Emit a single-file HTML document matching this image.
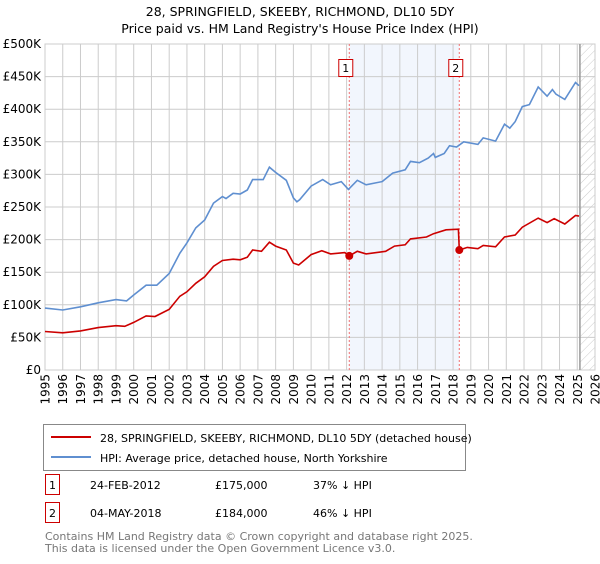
<!DOCTYPE html>
<html><head><meta charset="utf-8"><style>
body{margin:0;background:#fff;font-family:"DejaVu Sans","Liberation Sans",sans-serif;}
svg text{font-family:"DejaVu Sans","Liberation Sans",sans-serif;}
</style></head><body>
<svg id="c" width="600" height="560" viewBox="0 0 600 560">
<defs><pattern id="hatch" width="6" height="6" patternUnits="userSpaceOnUse" patternTransform="rotate(45)"><line x1="0" y1="0" x2="0" y2="6" stroke="#ccc" stroke-width="1"/></pattern></defs>
<text x="300" y="16" text-anchor="middle" font-size="12.5">28, SPRINGFIELD, SKEEBY, RICHMOND, DL10 5DY</text>
<text x="300" y="33" text-anchor="middle" font-size="12.5">Price paid vs. HM Land Registry's House Price Index (HPI)</text>
<g id="plot"></g>
<g>
<rect x="43.5" y="424.5" width="422" height="46" fill="#fff" stroke="#888"/>
<line x1="51" y1="437" x2="91" y2="437" stroke="#cc0000" stroke-width="2"/>
<text x="100" y="442" font-size="11">28, SPRINGFIELD, SKEEBY, RICHMOND, DL10 5DY (detached house)</text>
<line x1="51" y1="457" x2="91" y2="457" stroke="#5f8fd0" stroke-width="2"/>
<text x="100" y="462" font-size="11">HPI: Average price, detached house, North Yorkshire</text>
</g>
<g font-size="11">
<rect x="45.5" y="474.5" width="14" height="20" fill="#fff" stroke="#cc0000"/>
<text x="52.5" y="489" text-anchor="middle">1</text>
<text x="90" y="489">24-FEB-2012</text><text x="215" y="489">£175,000</text><text x="313" y="489">37% ↓ HPI</text>
<rect x="45.5" y="502.5" width="14" height="20" fill="#fff" stroke="#cc0000"/>
<text x="52.5" y="517" text-anchor="middle">2</text>
<text x="90" y="517">04-MAY-2018</text><text x="215" y="517">£184,000</text><text x="313" y="517">46% ↓ HPI</text>
</g>
<text x="45" y="540" font-size="11" fill="#777">Contains HM Land Registry data © Crown copyright and database right 2025.</text>
<text x="45" y="552" font-size="11" fill="#777">This data is licensed under the Open Government Licence v3.0.</text>
</svg>
<script>
const hpiYears=[1995,1996,1997,1998,1999,1999.6,2000,2000.7,2001.3,2002,2002.6,2003,2003.5,2004,2004.5,2005,2005.2,2005.6,2006,2006.4,2006.7,2007.3,2007.65,2008,2008.6,2009,2009.2,2009.35,2010,2010.65,2011.1,2011.7,2012.1,2012.6,2013.1,2014,2014.6,2015.3,2015.6,2016.1,2016.6,2016.9,2017,2017.5,2017.8,2018.2,2018.6,2019.4,2019.7,2020.4,2020.9,2021.2,2021.5,2021.9,2022.3,2022.8,2023.3,2023.6,2023.8,2024.3,2024.9,2025.1];
const hpiValues=[95,92,97,103,108,106,115,130,130,148,179,195,218,230,256,266,263,271,270,276,292,292,311,303,291,264,258,261,282,292,284,289,277,291,284,289,302,307,320,318,325,332,326,332,344,342,350,346,356,351,377,371,381,404,407,434,420,430,423,415,441,436];
const propYears=[1995,1996,1997,1998,1999,1999.5,2000,2000.7,2001.2,2002,2002.6,2003,2003.5,2004,2004.5,2005,2005.6,2006,2006.4,2006.7,2007.2,2007.65,2008,2008.6,2009,2009.3,2010,2010.6,2011.1,2011.9,2012.15,2012.6,2013.1,2014.2,2014.7,2015.3,2015.6,2016.5,2016.9,2017.6,2018.3,2018.35,2018.8,2019.4,2019.7,2020.4,2020.9,2021.5,2021.9,2022.8,2023.3,2023.7,2024.3,2024.9,2025.1];
const propValues=[59,57,60,65,68,67,73,83,82,93,113,120,133,143,159,168,170,169,173,184,182,196,190,184,164,161,177,183,178,180,175,182,178,182,190,192,201,204,209,215,216,184,188,186,191,189,204,207,219,233,226,232,224,237,236];
const saleYears=[2012.15,2018.35];
const saleValues=[175,184];
const saleLabels=["1","2"];
const yTicks=[0,50,100,150,200,250,300,350,400,450,500];
const yTickLabels=["£0","£50K","£100K","£150K","£200K","£250K","£300K","£350K","£400K","£450K","£500K"];
const xTicks=[1995,1996,1997,1998,1999,2000,2001,2002,2003,2004,2005,2006,2007,2008,2009,2010,2011,2012,2013,2014,2015,2016,2017,2018,2019,2020,2021,2022,2023,2024,2025,2026];
const dataEnd=2025.15;
const X0=45,X1=595,Y0=370,Y1=44;
const x=v=>X0+(v-1995)/(2026-1995)*(X1-X0);
const y=v=>Y0-v/500*(Y0-Y1);
const NS="http://www.w3.org/2000/svg";
const g=document.getElementById('plot');
function el(t,a,p){const e=document.createElementNS(NS,t);for(const k in a)e.setAttribute(k,a[k]);(p||g).appendChild(e);return e;}
let r=el('rect',{x:x(saleYears[0]),y:Y1,width:x(saleYears[1])-x(saleYears[0]),height:Y0-Y1,fill:'#f2f6fd'});


let h=el('rect',{x:x(dataEnd),y:Y1,width:X1-x(dataEnd),height:Y0-Y1,fill:'url(#hatch)'});


yTicks.forEach((v,i)=>{
 let l=el('line',{x1:X0,x2:X1,y1:y(v),y2:y(v),stroke:'#ccc'});
 
 
 let t=el('text',{x:X0-4,y:y(v)+4,'text-anchor':'end','font-size':'12'});t.textContent=yTickLabels[i];
 
 
});
xTicks.forEach(v=>{
 let l=el('line',{x1:x(v),x2:x(v),y1:Y1,y2:Y0,stroke:'#ccc'});
 
 
 const tx=x(v)+4.5,ty=374;
 let t=el('text',{x:tx,y:ty,'text-anchor':'end','font-size':'12',transform:'rotate(-90 '+tx+' '+ty+')'});t.textContent=v;
 
 
});
let b=el('rect',{x:X0,y:Y1,width:X1-X0,height:Y0-Y1,fill:'none',stroke:'#ccc'});


let dl=el('line',{x1:x(dataEnd),x2:x(dataEnd),y1:Y1,y2:Y0,stroke:'#999','stroke-width':1.5});


saleYears.forEach((s,i)=>{
 let l=el('line',{x1:x(s),x2:x(s),y1:Y1,y2:Y0,stroke:'#f07070','stroke-dasharray':'2,2'});
 
 
});
function line(xs,vs,c,n){let d=xs.map((v,i)=>(i?'L':'M')+x(v).toFixed(1)+','+y(vs[i]).toFixed(1)).join('');
 let p=el('path',{d:d,fill:'none',stroke:c,'stroke-width':1.6});
 
 }
line(hpiYears,hpiValues,'#5f8fd0','hpi-line');
line(propYears,propValues,'#cc0000','property-line');
saleYears.forEach((s,i)=>{
 let c=el('circle',{cx:x(s),cy:y(saleValues[i]),r:4,fill:'#cc0000'});
 
 
 let bx=el('rect',{x:x(s)-10.5,y:59.5,width:14,height:17,fill:'#fff',stroke:'#cc0000'});
 
 
 let t=el('text',{x:x(s)-3.5,y:72,'text-anchor':'middle','font-size':'11'});t.textContent=saleLabels[i];
 
 
});
</script>
</body></html>
